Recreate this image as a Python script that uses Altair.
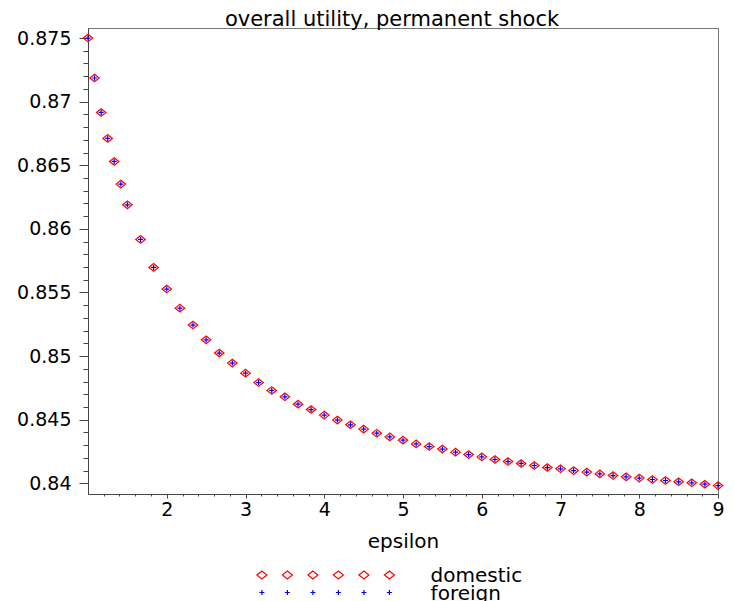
import altair as alt
import pandas as pd

# ---------------- data ----------------
epsilon = [1.0, 1.083, 1.167, 1.25, 1.333, 1.417, 1.5, 1.667, 1.833, 2.0,
           2.167, 2.333, 2.5, 2.667, 2.833, 3.0, 3.167, 3.333, 3.5, 3.667,
           3.833, 4.0, 4.167, 4.333, 4.5, 4.667, 4.833, 5.0, 5.167, 5.333,
           5.5, 5.667, 5.833, 6.0, 6.167, 6.333, 6.5, 6.667, 6.833, 7.0,
           7.167, 7.333, 7.5, 7.667, 7.833, 8.0, 8.167, 8.333, 8.5, 8.667,
           8.833, 9.0]
domestic = [0.87500, 0.87186, 0.86915, 0.86711, 0.86530, 0.86352, 0.86189,
            0.85917, 0.85697, 0.85527, 0.85377, 0.85244, 0.85128, 0.85024,
            0.84945, 0.84866, 0.84792, 0.84730, 0.84680, 0.84622, 0.84580,
            0.84536, 0.84497, 0.84460, 0.84426, 0.84394, 0.84365, 0.84339,
            0.84310, 0.84289, 0.84269, 0.84245, 0.84226, 0.84208, 0.84187,
            0.84171, 0.84156, 0.84140, 0.84124, 0.84114, 0.84100, 0.84088,
            0.84074, 0.84061, 0.84051, 0.84041, 0.84030, 0.84022, 0.84012,
            0.84004, 0.83993, 0.83982]
foreign = [0.87500, 0.87186, 0.86915, 0.86711, 0.86530, 0.86352, 0.86189,
           0.85917, 0.85697, 0.85527, 0.85377, 0.85244, 0.85128, 0.85024,
           0.84945, 0.84866, 0.84792, 0.84730, 0.84680, 0.84622, 0.84580,
           0.84536, 0.84497, 0.84460, 0.84426, 0.84394, 0.84365, 0.84339,
           0.84310, 0.84289, 0.84269, 0.84245, 0.84226, 0.84208, 0.84187,
           0.84171, 0.84156, 0.84140, 0.84124, 0.84114, 0.84100, 0.84088,
           0.84074, 0.84061, 0.84051, 0.84041, 0.84030, 0.84022, 0.84012,
           0.84004, 0.83993, 0.83982]

series_names = ["domestic", "foreign"]
x_ticks = [2, 3, 4, 5, 6, 7, 8, 9]
y_ticks = [0.84, 0.845, 0.85, 0.855, 0.86, 0.865, 0.87, 0.875]
title_text = "overall utility, permanent shock"
x_title = "epsilon"

# ---------------- styling / layout ----------------
FONT = "DejaVu Sans"
W, H = 630, 466
X_DOMAIN = [1, 9]
Y_DOMAIN = [0.83916, 0.87579]
x_minor = [round(1 + 0.2 * i, 3) for i in range(1, 40)]
y_minor = [round(0.840 + 0.001 * i, 4) for i in range(0, 36)]

DIAMOND = "M-1,0L0,-0.8L1,0L0,0.8Z"
PLUS = "M-1,0L1,0M0,-1L0,1"

df_dom = pd.DataFrame({"eps": epsilon, "val": domestic})
df_for = pd.DataFrame({"eps": epsilon, "val": foreign})

xscale = alt.Scale(domain=X_DOMAIN, nice=False, zero=False)
yscale = alt.Scale(domain=Y_DOMAIN, nice=False, zero=False)

x_major_axis = alt.Axis(values=x_ticks, orient="bottom", grid=False, tickSize=4,
                        labelPadding=2, labelFontSize=19, labelFont=FONT,
                        labelColor="black", labelFlush=False, domainColor="#444",
                        tickColor="#444", titleFont=FONT, titleFontSize=20,
                        titleFontWeight="normal", titleColor="black",
                        titlePadding=12, format="d")
y_major_axis = alt.Axis(values=y_ticks, orient="left", grid=False, tickSize=9,
                        labelPadding=8, labelFontSize=19, labelFont=FONT,
                        labelColor="black", domainColor="#444", tickColor="#444",
                        labelFlush=False, format="~g")
x_minor_axis = alt.Axis(values=x_minor, orient="bottom", grid=False, tickSize=2,
                        labels=False, domain=False, tickColor="#444", title=None)
y_minor_axis = alt.Axis(values=y_minor, orient="left", grid=False, tickSize=5,
                        labels=False, domain=False, tickColor="#444", title=None)

dom_layer = alt.Chart(df_dom).mark_point(
    shape=DIAMOND, size=90, color="#ff0000", filled=False, strokeWidth=1.2, opacity=1
).encode(
    x=alt.X("eps:Q", scale=xscale, axis=x_major_axis, title=x_title),
    y=alt.Y("val:Q", scale=yscale, axis=y_major_axis, title=None),
)
for_layer = alt.Chart(df_for).mark_point(
    shape=PLUS, size=25, color="#0000ff", filled=False, strokeWidth=1.2, opacity=1
).encode(
    x=alt.X("eps:Q", scale=xscale, axis=x_minor_axis),
    y=alt.Y("val:Q", scale=yscale, axis=y_minor_axis),
)

main = alt.layer(dom_layer, for_layer).resolve_axis(
    x="independent", y="independent"
).properties(
    width=W, height=H,
    title=alt.TitleParams(title_text, font=FONT, fontSize=21, fontWeight="normal",
                          color="black", anchor="middle", frame="group",
                          baseline="alphabetic", offset=-19, dx=-11),
    view=alt.ViewBackground(stroke="#777", strokeWidth=1),
)

# ---------------- legend (drawn below the plot) ----------------
LEG_H = 36
SLOT_PX0 = 173.9     # first symbol, px from plot left
SLOT_STEP = 25.5     # px between symbols
TEXT_PX = 342.6      # legend text, px from plot left
ROW0_PX, ROW_STEP = 9.0, 17.5
leg_domain = [-SLOT_PX0 / SLOT_STEP, (W - SLOT_PX0) / SLOT_STEP]
text_slot = (TEXT_PX - SLOT_PX0) / SLOT_STEP
row_domain = [-ROW0_PX / ROW_STEP, (LEG_H - ROW0_PX) / ROW_STEP]
slots = [0, 1, 2, 3, 4, 5]

leg_sym = pd.DataFrame({
    "slot": slots * 2,
    "row": [0] * len(slots) + [1] * len(slots),
    "series": [series_names[0]] * len(slots) + [series_names[1]] * len(slots),
})
leg_txt = pd.DataFrame({"slot": [text_slot, text_slot], "row": [0, 1],
                        "series": series_names})

lx = alt.X("slot:Q", scale=alt.Scale(domain=leg_domain, nice=False, zero=False), axis=None)
ly = alt.Y("row:Q", scale=alt.Scale(domain=row_domain, reverse=True, nice=False, zero=False), axis=None)

leg_dom = alt.Chart(leg_sym).transform_filter(alt.datum.row == 0).mark_point(
    shape=DIAMOND, size=100, color="#ff0000", filled=False, strokeWidth=1.2, opacity=1
).encode(x=lx, y=ly)
leg_for = alt.Chart(leg_sym).transform_filter(alt.datum.row == 1).mark_point(
    shape=PLUS, size=25, color="#0000ff", filled=False, strokeWidth=1.2, opacity=1
).encode(x=lx, y=ly)
leg_text = alt.Chart(leg_txt).mark_text(
    align="left", baseline="middle", font=FONT, fontSize=20, color="black", dy=1
).encode(x=lx, y=ly, text="series:N")

legend = alt.layer(leg_dom, leg_for, leg_text).properties(
    width=W, height=LEG_H, view=alt.ViewBackground(stroke="transparent")
)

chart = alt.vconcat(main, legend, spacing=13).properties(
    padding={"left": 8, "top": 0, "right": 0, "bottom": 0}
).configure(background="white").configure_view(stroke="transparent")

chart.save("out.html", embed_options={"renderer": "svg", "actions": False})
